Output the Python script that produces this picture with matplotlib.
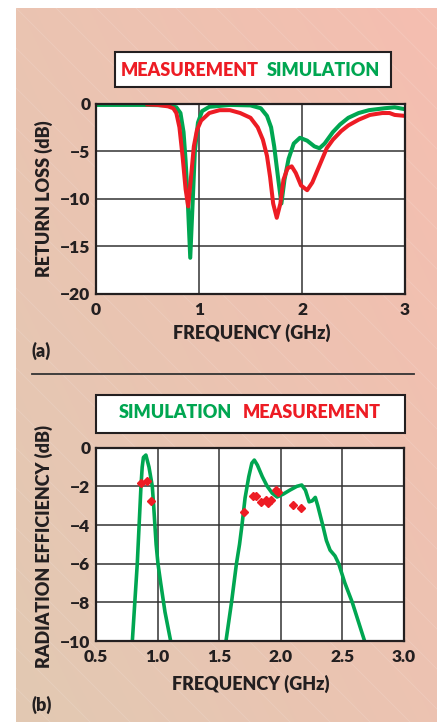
import matplotlib
matplotlib.use('Agg')
import matplotlib.pyplot as plt
import numpy as np
from matplotlib.patches import Rectangle
from matplotlib.lines import Line2D

plt.rcParams['font.family'] = ['Lato', 'DejaVu Sans']
WEIGHT = 'heavy'
plt.rcParams['font.weight'] = WEIGHT

GREEN = '#00a651'
RED = '#ed1c24'

# ---------------- data: (a) return loss ----------------
sim_rl_f = [0.0, 0.5, 0.7, 0.78, 0.82, 0.85, 0.87, 0.89, 0.915, 0.94, 0.96, 0.99,
            1.03, 1.1, 1.3, 1.5, 1.6, 1.66, 1.7, 1.73, 1.77, 1.80, 1.83, 1.87,
            1.92, 1.98, 2.05, 2.12, 2.17, 2.22, 2.3, 2.37, 2.45, 2.55, 2.65,
            2.8, 2.9, 3.0]
sim_rl = [-0.15, -0.15, -0.2, -0.4, -1.0, -3.0, -6.0, -10.0, -16.2, -10.0, -5.0, -2.0,
          -0.8, -0.35, -0.15, -0.2, -0.5, -1.3, -2.5, -4.5, -8.0, -10.5, -8.0, -5.8,
          -4.2, -3.6, -3.9, -4.5, -4.7, -4.2, -3.0, -2.2, -1.5, -1.0, -0.7,
          -0.5, -0.4, -0.6]

meas_rl_f = [0.5, 0.6, 0.7, 0.75, 0.78, 0.81, 0.84, 0.87, 0.895, 0.92, 0.95, 0.98,
             1.02, 1.1, 1.2, 1.3, 1.4, 1.5, 1.57, 1.62, 1.66, 1.69, 1.72, 1.755,
             1.79, 1.82, 1.86, 1.90, 1.94, 1.99, 2.05, 2.10, 2.17, 2.24, 2.30,
             2.38, 2.45, 2.55, 2.66, 2.78, 2.85, 2.9, 3.0]
meas_rl = [-0.1, -0.15, -0.3, -0.5, -1.0, -2.5, -5.5, -9.0, -10.8, -8.0, -4.5, -2.8,
           -1.8, -1.0, -0.7, -0.7, -1.0, -1.5, -2.5, -3.8, -5.5, -7.7, -10.5, -12.0,
           -10.5, -8.0, -6.8, -6.6, -7.3, -8.6, -9.1, -8.3, -6.5, -4.7, -3.8,
           -2.9, -2.3, -1.7, -1.2, -1.0, -1.0, -1.2, -1.3]

a_xticks = [0, 1, 2, 3]
a_xticklabels = ['0', '1', '2', '3']
a_yticks = [0, -5, -10, -15, -20]
a_yticklabels = ['0', '\u22125', '\u221210', '\u221215', '\u221220']

# ---------------- data: (b) radiation efficiency ----------------
sim_eff1_f = [0.795, 0.815, 0.835, 0.85, 0.865, 0.875, 0.885, 0.905, 0.93, 0.957,
              0.968, 0.978, 0.988, 1.003, 1.025, 1.06, 1.106]
sim_eff1 = [-10.0, -8.0, -6.0, -4.0, -2.0, -1.0, -0.5, -0.38, -1.0, -2.0,
            -3.0, -4.0, -5.0, -6.0, -7.0, -8.5, -10.0]

sim_eff2_f = [1.555, 1.60, 1.64, 1.665, 1.685, 1.71, 1.74, 1.765, 1.785, 1.81,
              1.85, 1.89, 1.93, 1.97, 2.02, 2.075, 2.13, 2.17, 2.2, 2.23, 2.255,
              2.28, 2.30, 2.34, 2.37, 2.40, 2.44, 2.47, 2.52, 2.58, 2.63, 2.68]
sim_eff2 = [-10.0, -8.0, -6.0, -5.0, -4.0, -2.6, -1.5, -0.8, -0.64, -0.9,
            -1.5, -2.0, -2.35, -2.55, -2.4, -2.19, -2.0, -1.93, -2.2, -2.8, -2.75,
            -2.57, -3.0, -4.0, -4.8, -5.3, -5.6, -6.0, -7.0, -8.0, -9.0, -10.0]

meas_eff_f = [0.865, 0.917, 0.946, 1.70, 1.777, 1.80, 1.84, 1.88, 1.90, 1.92,
              1.96, 1.98, 2.10, 2.16]
meas_eff = [-1.81, -1.72, -2.74, -3.31, -2.5, -2.5, -2.83, -2.7, -2.88, -2.7,
            -2.19, -2.31, -2.96, -3.10]

b_xticks = [0.5, 1.0, 1.5, 2.0, 2.5, 3.0]
b_xticklabels = ['0.5', '1.0', '1.5', '2.0', '2.5', '3.0']
b_yticks = [0, -2, -4, -6, -8, -10]
b_yticklabels = ['0', '\u22122', '\u22124', '\u22126', '\u22128', '\u221210']

# ---------------- figure ----------------
W, H = 437, 722
fig = plt.figure(figsize=(W / 100, H / 100), dpi=100)
fig.patch.set_facecolor('white')
INK = '#231f20'
FS_TICK = 12.5
FS_LABEL = 13
FS_LEG = 13


def fy(py):
    return 1 - py / H


# background panel with gradient
bg = fig.add_axes([16 / W, 0, 1 - 16 / W, 1 - 8 / H], zorder=-10)
nx, ny = 200, 300
xx, yy = np.meshgrid(np.linspace(0, 1, nx), np.linspace(0, 1, ny))
t = (xx * 0.55 + (1 - yy) * 0.45)
beige = np.array([226, 201, 179]) / 255
pink = np.array([245, 190, 176]) / 255
img = beige[None, None, :] * (1 - t[..., None]) + pink[None, None, :] * t[..., None]
bg.imshow(img, extent=[0, 1, 0, 1], aspect='auto', origin='upper')
bw, bh = (W - 16), (H - 8)
for k in range(-30, 40):
    x0 = k * 40.0
    bg.plot([x0 / bw, (x0 + bh) / bw], [1, 0], color='white', alpha=0.13, lw=0.7)
bg.set_xlim(0, 1)
bg.set_ylim(0, 1)
bg.axis('off')


def style_axes(ax, xt, xtl, yt, ytl, xpad, ypad):
    ax.set_xticks(xt)
    ax.set_xticklabels(xtl)
    ax.set_yticks(yt)
    ax.set_yticklabels(ytl)
    ax.grid(True, color='#333333', lw=1.1)
    ax.set_axisbelow(True)
    ax.tick_params(length=0, labelsize=FS_TICK)
    ax.tick_params(axis='x', pad=xpad)
    ax.tick_params(axis='y', pad=ypad)
    for lab in ax.get_xticklabels() + ax.get_yticklabels():
        lab.set_fontweight(WEIGHT)
        lab.set_color(INK)
    for s in ax.spines.values():
        s.set_linewidth(1.6)
        s.set_color(INK)
    ax.set_facecolor('white')


# ---- (a) ----
ax1 = fig.add_axes([96 / W, 1 - 294 / H, 309 / W, 190.5 / H])
ax1.plot(sim_rl_f, sim_rl, color=GREEN, lw=2.9, solid_joinstyle='round')
ax1.plot(meas_rl_f, meas_rl, color=RED, lw=2.9, solid_joinstyle='round')
ax1.set_xlim(0, 3)
ax1.set_ylim(-20, 0)
style_axes(ax1, a_xticks, a_xticklabels, a_yticks, a_yticklabels, 5.5, 4.0)

# legend box (a)
fig.patches.append(Rectangle((115 / W, fy(87)), 276 / W, 35 / H, transform=fig.transFigure,
                             facecolor='white', edgecolor=INK, lw=1.5, zorder=5))
fig.text(189.7 / W, fy(70), 'MEASUREMENT', color=RED, ha='center', va='center',
         fontsize=FS_LEG, fontweight=WEIGHT, zorder=6)
fig.text(323.5 / W, fy(70), 'SIMULATION', color=GREEN, ha='center', va='center',
         fontsize=FS_LEG, fontweight=WEIGHT, zorder=6)

fig.text(251.5 / W, fy(333), 'FREQUENCY (GHz)', ha='center', va='center',
         fontsize=FS_LABEL, fontweight=WEIGHT, color=INK)
fig.text(43.5 / W, fy(199), 'RETURN LOSS (dB)', ha='center', va='center', rotation=90,
         fontsize=FS_LABEL, fontweight=WEIGHT, color=INK)
fig.text(32 / W, fy(351), '(a)', ha='left', va='center', fontsize=13,
         fontweight=WEIGHT, color=INK)

# separator
fig.add_artist(Line2D([32 / W, 414 / W], [fy(373.7), fy(373.7)], color='#333333', lw=1.3))

# ---- (b) ----
ax2 = fig.add_axes([96 / W, 1 - 641 / H, 308 / W, 193.3 / H])
ax2.plot(sim_eff1_f, sim_eff1, color=GREEN, lw=2.6, solid_joinstyle='round')
ax2.plot(sim_eff2_f, sim_eff2, color=GREEN, lw=2.6, solid_joinstyle='round')
ax2.plot(meas_eff_f, meas_eff, linestyle='none', marker='D', ms=4, color=RED, mec=RED)
ax2.set_xlim(0.5, 3.0)
ax2.set_ylim(-10, 0)
style_axes(ax2, b_xticks, b_xticklabels, b_yticks, b_yticklabels, 6, 4.0)

fig.patches.append(Rectangle((96 / W, fy(432.7)), 309 / W, 37.7 / H, transform=fig.transFigure,
                             facecolor='white', edgecolor=INK, lw=1.5, zorder=5))
fig.text(175 / W, fy(413), 'SIMULATION', color=GREEN, ha='center', va='center',
         fontsize=FS_LEG, fontweight=WEIGHT, zorder=6)
fig.text(311.3 / W, fy(413), 'MEASUREMENT', color=RED, ha='center', va='center',
         fontsize=FS_LEG, fontweight=WEIGHT, zorder=6)

fig.text(251 / W, fy(684), 'FREQUENCY (GHz)', ha='center', va='center',
         fontsize=FS_LABEL, fontweight=WEIGHT, color=INK)
fig.text(43.5 / W, fy(546.7), 'RADIATION EFFICIENCY (dB)', ha='center', va='center',
         rotation=90, fontsize=FS_LABEL, fontweight=WEIGHT, color=INK)
fig.text(32 / W, fy(705), '(b)', ha='left', va='center', fontsize=13,
         fontweight=WEIGHT, color=INK)

fig.savefig('out.png', dpi=100)
